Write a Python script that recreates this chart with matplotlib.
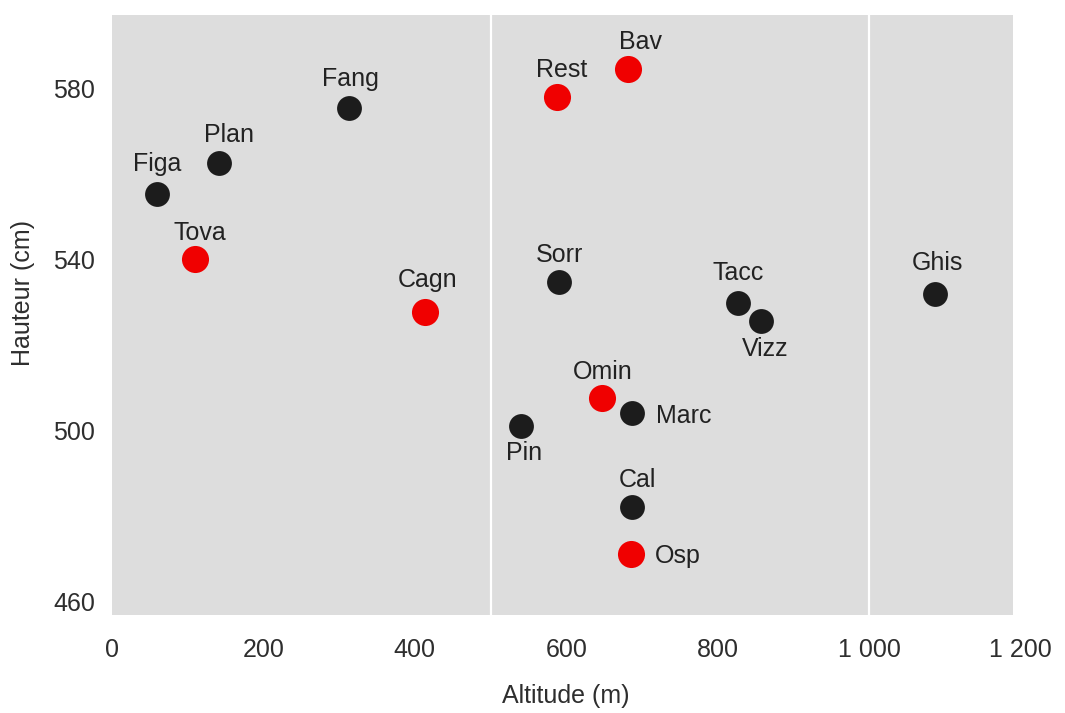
import matplotlib
matplotlib.use("Agg")
import matplotlib.pyplot as plt
from matplotlib.transforms import blended_transform_factory

plt.rcParams['font.family'] = ['Liberation Sans', 'DejaVu Sans']

# ---- data ----
sites = ["Figa", "Plan", "Fang", "Tova", "Cagn", "Rest", "Bav", "Sorr",
         "Omin", "Marc", "Pin", "Cal", "Osp", "Tacc", "Vizz", "Ghis"]
altitude = [59, 141, 313, 110, 413, 588, 682, 590,
            647, 687, 540, 687, 686, 827, 857, 1087]
hauteur = [555.4, 562.6, 575.5, 540.2, 527.8, 578.1, 584.6, 534.8,
           507.7, 504.2, 501.1, 482.2, 471.2, 529.9, 525.7, 532.0]
highlight = [False, False, False, True, True, True, True, False,
             True, False, False, False, True, False, False, False]
xticks = [0, 200, 400, 600, 800, 1000, 1200]
xtick_labels = ["0", "200", "400", "600", "800", "1 000", "1 200"]
yticks = [460, 500, 540, 580]
xlabel = "Altitude (m)"
ylabel = "Hauteur (cm)"

# label placement (pixel offsets from the point; positive dy = up)
label_pos = {
    "Figa": (1, 30, "center"), "Plan": (10, 28, "center"), "Fang": (1, 29, "center"),
    "Tova": (5, 26, "center"), "Cagn": (3, 32, "center"), "Rest": (4, 27, "center"),
    "Bav": (12, 27, "center"), "Sorr": (1, 27, "center"), "Omin": (1, 26, "center"),
    "Marc": (24, -3, "left"), "Pin": (3, -27, "center"), "Cal": (5, 27, "center"),
    "Osp": (23, -2, "left"), "Tacc": (0, 30, "center"), "Vizz": (4, -28, "center"),
    "Ghis": (2, 31, "center"),
}

W, H = 1065, 713
fig = plt.figure(figsize=(W / 100, H / 100), dpi=100)
fig.patch.set_facecolor("white")
left, right, top, bottom = 112, 1013, 15, 615
ax = fig.add_axes([left / W, 1 - bottom / H, (right - left) / W, (bottom - top) / H])
ax.set_facecolor("#dddddd")
for s in ax.spines.values():
    s.set_visible(False)

ax.set_xlim(0, 1190)
ax.set_ylim(456.9, 597.3)

for gx in [500, 1000]:
    ax.axvline(gx, color="white", lw=1.6, zorder=1)

txt_color = "#2e2e2e"
fs = 18

black_x = [a for a, h in zip(altitude, highlight) if not h]
black_y = [b for b, h in zip(hauteur, highlight) if not h]
red_x = [a for a, h in zip(altitude, highlight) if h]
red_y = [b for b, h in zip(hauteur, highlight) if h]
ax.scatter(black_x, black_y, s=320, color="#1c1c1c", zorder=3, linewidths=0)
ax.scatter(red_x, red_y, s=380, color="#f00000", zorder=3, linewidths=0)

for name, x, y in zip(sites, altitude, hauteur):
    dx, dy, ha = label_pos[name]
    ax.annotate(name, (x, y), xytext=(dx * 0.72, dy * 0.72), textcoords="offset points",
                ha=ha, va="center", fontsize=fs, color="#222222", zorder=4)

ax.set_xticks([])
ax.set_yticks(yticks)
ax.set_yticklabels([str(v) for v in yticks], fontsize=fs, color=txt_color)
ax.tick_params(axis="y", length=0, pad=12)

trans = blended_transform_factory(ax.transData, ax.transAxes)
for v, lab in zip(xticks, xtick_labels):
    ax.text(v, -0.058, lab, transform=trans, ha="center", va="center",
            fontsize=fs, color=txt_color, clip_on=False)

ax.set_xlabel(xlabel, fontsize=fs, color=txt_color, va="center")
ax.xaxis.set_label_coords(0.504, -0.135)
ax.set_ylabel(ylabel, fontsize=fs, color=txt_color, va="center")
ax.yaxis.set_label_coords(-0.099, 0.537)

fig.savefig("out.png", dpi=100)
